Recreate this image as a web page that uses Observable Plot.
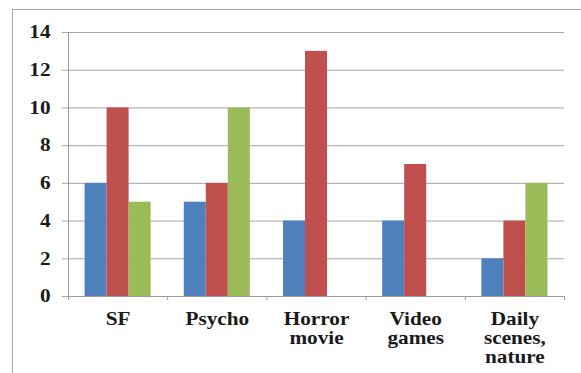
<!DOCTYPE html>
<html>
<head>
<meta charset="utf-8">
<script src="https://cdn.jsdelivr.net/npm/d3@7"></script>
<script src="https://cdn.jsdelivr.net/npm/@observablehq/plot@0.6"></script>
<style>
  html, body { margin: 0; padding: 0; background: #fff; }
  #chart { position: relative; width: 581px; height: 373px; overflow: hidden; }
  #frame { position: absolute; left: 12px; top: 9px; right: -10px; bottom: -10px;
           border-top: 1.5px solid #a9a9a9; border-left: 1.5px solid #a9a9a9; }
  #chart svg { position: absolute; left: 0; top: 0; }
</style>
</head>
<body>
<div id="chart"><div id="frame"></div></div>
<script>
// Genre categories (line breaks mark wrapped labels)
const categories = ["SF", "Psycho", "Horror\nmovie", "Video\ngames", "Daily\nscenes,\nnature"];
const series = ["Series 1", "Series 2", "Series 3"];
const series1 = [6, 5, 4, 4, 2];
const series2 = [10, 6, 13, 7, 4];
const series3 = [5, 10, 0, 0, 6];
const yTicks = [0, 2, 4, 6, 8, 10, 12, 14];
const colors = ["#4F81BD", "#C0504D", "#9BBB59"];

// Each category occupies one unit on x; the three bars sit side by side in its middle.
const barWidth = 0.222;
const rows = [];
[series1, series2, series3].forEach((values, s) => {
  values.forEach((v, i) => {
    const x1 = i + 0.5 + (s - 1.5) * barWidth;
    rows.push({category: categories[i], series: series[s], x1, x2: x1 + barWidth, value: v});
  });
});

const boundaries = d3.range(categories.length + 1);
const centers = categories.map((_, i) => i + 0.5);

const chart = Plot.plot({
  width: 581,
  height: 373,
  marginLeft: 68,
  marginRight: 17,
  marginTop: 32,
  marginBottom: 77,
  style: {
    fontFamily: "'Liberation Serif', 'Times New Roman', serif",
    fontSize: "18px",
    fontWeight: "bold",
    color: "#1a1a1a",
    background: "transparent"
  },
  x: {domain: [0, categories.length]},
  y: {domain: [0, 14]},
  color: {domain: series, range: colors},
  marks: [
    Plot.gridY(yTicks, {stroke: "#a6a6a6", strokeOpacity: 1}),
    Plot.axisY(yTicks, {tickSize: 6, tickPadding: 12, stroke: "#a6a6a6", label: null}),
    Plot.rect(rows, {x1: "x1", x2: "x2", y1: 0, y2: "value", fill: "series"}),
    Plot.ruleX([0], {stroke: "#9a9a9a"}),
    Plot.ruleY([0], {stroke: "#9a9a9a"}),
    Plot.axisX(boundaries, {tickSize: 4, stroke: "#9a9a9a", tickFormat: () => "", label: null}),
    Plot.axisX(centers, {tickSize: 0, tickPadding: 15, lineHeight: 1.06,
                         tickFormat: (d) => categories[Math.floor(d)], label: null})
  ]
});

// The labels use a slightly widened serif face.
chart.querySelectorAll('g[aria-label="y-axis tick label"] text, g[aria-label="x-axis tick label"] text').forEach((el) => {
  const t = el.getAttribute("transform");
  if (t) {
    el.setAttribute("transform", t + " scale(1.18,1)");
  } else {
    const x = +el.getAttribute("x") || 0, y = +el.getAttribute("y") || 0;
    el.removeAttribute("x");
    el.removeAttribute("y");
    el.setAttribute("transform", `translate(${x},${y}) scale(1.18,1)`);
  }
});

document.getElementById("chart").appendChild(chart);
</script>
</body>
</html>
